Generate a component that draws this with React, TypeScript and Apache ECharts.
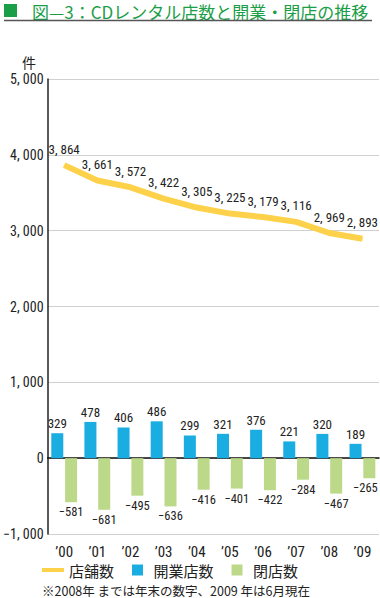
import React, { useEffect, useRef } from "react";
import * as echarts from "echarts";

const categories = ["’00", "’01", "’02", "’03", "’04", "’05", "’06", "’07", "’08", "’09"];
const storeCounts = [3864, 3661, 3572, 3422, 3305, 3225, 3179, 3116, 2969, 2893];
const openings = [329, 478, 406, 486, 299, 321, 376, 221, 320, 189];
const closings = [-581, -681, -495, -636, -416, -401, -422, -284, -467, -265];
const yTicks = [-1000, 0, 1000, 2000, 3000, 4000, 5000];

const NARROW = "'Liberation Sans Narrow', 'Arial Narrow', 'Roboto Condensed', Roboto, sans-serif";
const JP = "'Noto Sans CJK JP', 'Noto Sans', sans-serif";

const fmtComma = (v: number) => {
  const s = Math.abs(v).toLocaleString("en-US").replace(/,/g, ", ");
  return v < 0 ? "−" + s : s;
};

export default function App() {
  const ref = useRef<HTMLDivElement>(null);
  useEffect(() => {
    if (!ref.current) return;
    const chart = echarts.init(ref.current, undefined, { renderer: "svg" });
    const closingData = closings.map((v, i) =>
      i === closings.length - 1 ? { value: v, label: { offset: [-4, 0] } } : v
    );
    chart.setOption({
      animation: false,
      backgroundColor: "#ffffff",
      grid: { left: 39, right: 1, top: 79, bottom: 64, containLabel: false },
      graphic: [
        { type: "rect", shape: { x: 4, y: 4, width: 13, height: 13 }, style: { fill: "#1a9e48" } },
        {
          type: "text",
          x: 32,
          y: 11,
          style: {
            text: "図—3：CDレンタル店数と開業・閉店の推移",
            fill: "#1a9e48",
            font: `17px ${JP}`,
            verticalAlign: "middle",
          },
        },
        { type: "line", shape: { x1: 4, y1: 20.5, x2: 372, y2: 20.5 }, style: { stroke: "#555", lineWidth: 1.5 } },
        {
          type: "text",
          x: 29,
          y: 62,
          style: { text: "件", fill: "#222", font: `14px ${JP}`, align: "center", verticalAlign: "middle" },
        },
        {
          type: "text",
          x: 42,
          y: 590,
          style: {
            text: "※2008年 までは年末の数字、2009 年は6月現在",
            fill: "#222",
            font: `12.5px ${JP}`,
            verticalAlign: "middle",
          },
        },
      ],
      legend: {
        left: 42,
        top: 562,
        itemWidth: 22,
        itemHeight: 11,
        itemGap: 18,
        padding: 0,
        textStyle: { fontFamily: JP, fontSize: 15, color: "#222", lineHeight: 16 },
        data: [
          { name: "店舗数", icon: "path://M0,0h22v4h-22z" },
          { name: "開業店数", icon: "path://M0,0h10v10h-10z" },
          { name: "閉店数", icon: "path://M0,0h10v10h-10z" },
        ],
      },
      xAxis: {
        type: "category",
        data: categories,
        axisLine: { onZero: true, lineStyle: { color: "#111", width: 1.5 } },
        axisTick: { show: false },
        axisLabel: {
          show: true,
          interval: 0,
          fontFamily: NARROW,
          fontSize: 15,
          color: "#222",
          margin: 10,
        },
        position: "bottom",
      },
      yAxis: {
        type: "value",
        min: -1000,
        max: 5000,
        interval: 1000,
        axisLine: { show: true, lineStyle: { color: "#222", width: 1.5 } },
        axisTick: { show: false },
        splitLine: { lineStyle: { color: "#d0d0d0", width: 1.2 } },
        axisLabel: {
          fontFamily: NARROW,
          fontSize: 14,
          color: "#222",
          margin: 4,
          formatter: (v: number) => (yTicks.includes(v) ? fmtComma(v) : ""),
        },
      },
      series: [
        {
          name: "開業店数",
          type: "bar",
          data: openings,
          barWidth: 12,
          barGap: "15%",
          itemStyle: { color: "#19ade2" },
          label: {
            show: true,
            position: "top",
            distance: 3,
            fontFamily: NARROW,
            fontSize: 13,
            color: "#222",
          },
          z: 2,
        },
        {
          name: "閉店数",
          type: "bar",
          data: closingData,
          barWidth: 12,
          barGap: "15%",
          itemStyle: { color: "#bcd98a" },
          label: {
            show: true,
            position: "bottom",
            distance: 3,
            fontFamily: NARROW,
            fontSize: 12.5,
            color: "#222",
            formatter: (p: any) => fmtComma(p.value),
          },
          z: 2,
        },
        {
          name: "店舗数",
          type: "line",
          data: storeCounts,
          symbol: "circle",
          symbolSize: 1,
          showSymbol: true,
          lineStyle: { color: "#fdd24a", width: 6 },
          itemStyle: { color: "#fdd24a" },
          label: {
            show: true,
            position: "top",
            distance: 9,
            fontFamily: NARROW,
            fontSize: 13,
            color: "#222",
            formatter: (p: any) => fmtComma(p.value),
          },
          labelLayout: { hideOverlap: false },
          z: 3,
        },
      ],
    });
    return () => chart.dispose();
  }, []);
  return <div ref={ref} style={{ width: 380, height: 598, position: "absolute", left: 0, top: 0 }} />;
}
